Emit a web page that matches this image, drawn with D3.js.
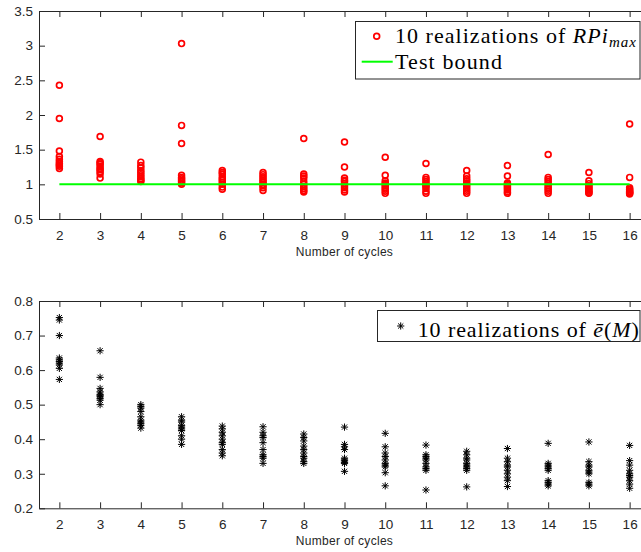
<!DOCTYPE html>
<html><head><meta charset="utf-8">
<script src="https://cdn.jsdelivr.net/npm/d3@7"></script>
<style>
body{margin:0;background:#fff}
svg text{font-family:"Liberation Sans",Arial,Helvetica,sans-serif;fill:#262626}
.leg text{font-family:"Liberation Serif","Times New Roman",serif;fill:#000}
</style>
</head><body>
<svg id="fig" width="641" height="552"></svg>
<script>
// Number of cycles on the x axis
const cycles = [2, 3, 4, 5, 6, 7, 8, 9, 10, 11, 12, 13, 14, 15, 16];

// 10 realizations of RPi_max per cycle count
const rpiMax = [
  [2.43, 1.95, 1.48, 1.40, 1.36, 1.33, 1.30, 1.28, 1.26, 1.23],
  [1.69, 1.33, 1.31, 1.29, 1.26, 1.23, 1.21, 1.18, 1.15, 1.09],
  [1.32, 1.27, 1.24, 1.20, 1.17, 1.14, 1.11, 1.08, 1.06, 1.04],
  [3.03, 1.85, 1.59, 1.13, 1.10, 1.08, 1.06, 1.04, 1.02, 1.00],
  [1.20, 1.17, 1.15, 1.11, 1.08, 1.06, 1.03, 1.00, 0.96, 0.93],
  [1.17, 1.14, 1.11, 1.08, 1.05, 1.03, 1.00, 0.98, 0.95, 0.91],
  [1.66, 1.15, 1.12, 1.09, 1.04, 1.00, 0.97, 0.94, 0.91, 0.89],
  [1.61, 1.25, 1.09, 1.06, 1.04, 1.01, 0.98, 0.95, 0.92, 0.89],
  [1.39, 1.13, 1.05, 1.02, 1.00, 0.98, 0.95, 0.93, 0.90, 0.87],
  [1.30, 1.10, 1.07, 1.04, 1.01, 0.99, 0.97, 0.94, 0.90, 0.87],
  [1.20, 1.12, 1.08, 1.05, 1.02, 0.99, 0.96, 0.93, 0.90, 0.87],
  [1.27, 1.12, 1.02, 1.00, 0.98, 0.96, 0.94, 0.92, 0.89, 0.87],
  [1.43, 1.10, 1.07, 1.04, 1.01, 0.98, 0.95, 0.93, 0.90, 0.87],
  [1.17, 1.05, 1.01, 0.98, 0.96, 0.94, 0.92, 0.90, 0.88, 0.87],
  [1.87, 1.10, 0.95, 0.93, 0.92, 0.90, 0.89, 0.88, 0.87, 0.86]
];
const testBound = 1;

// 10 realizations of the mean error e(M) per cycle count
const eBar = [
  [0.752, 0.745, 0.700, 0.635, 0.630, 0.625, 0.620, 0.615, 0.605, 0.573],
  [0.656, 0.579, 0.547, 0.537, 0.530, 0.527, 0.523, 0.518, 0.513, 0.500],
  [0.500, 0.495, 0.490, 0.480, 0.465, 0.455, 0.450, 0.445, 0.440, 0.432],
  [0.465, 0.455, 0.450, 0.440, 0.435, 0.430, 0.425, 0.410, 0.400, 0.385],
  [0.438, 0.430, 0.420, 0.410, 0.400, 0.390, 0.385, 0.370, 0.360, 0.352],
  [0.436, 0.420, 0.410, 0.405, 0.390, 0.370, 0.355, 0.350, 0.345, 0.330],
  [0.415, 0.405, 0.395, 0.380, 0.370, 0.360, 0.350, 0.345, 0.335, 0.330],
  [0.435, 0.385, 0.378, 0.370, 0.345, 0.340, 0.337, 0.333, 0.330, 0.307],
  [0.417, 0.378, 0.360, 0.350, 0.340, 0.330, 0.325, 0.320, 0.303, 0.265],
  [0.383, 0.355, 0.350, 0.345, 0.340, 0.330, 0.320, 0.315, 0.310, 0.253],
  [0.365, 0.355, 0.345, 0.340, 0.330, 0.325, 0.320, 0.315, 0.310, 0.262],
  [0.373, 0.345, 0.335, 0.325, 0.320, 0.310, 0.300, 0.290, 0.280, 0.263],
  [0.388, 0.330, 0.325, 0.320, 0.315, 0.310, 0.280, 0.275, 0.270, 0.265],
  [0.392, 0.335, 0.325, 0.320, 0.310, 0.305, 0.300, 0.275, 0.270, 0.265],
  [0.382, 0.338, 0.325, 0.310, 0.300, 0.295, 0.290, 0.280, 0.270, 0.258]
];

const topYTicks = [0.5, 1, 1.5, 2, 2.5, 3, 3.5];
const bottomYTicks = [0.2, 0.3, 0.4, 0.5, 0.6, 0.7, 0.8];
const xLabel = "Number of cycles";

const svg = d3.select("#fig");
const axisColor = "#262626";

const x = d3.scaleLinear().domain([1.5, 16.5]).range([39, 650]);

// spread a text's glyphs so it spans the given width
function fitWidth(textSel, target) {
  const node = textSel.node();
  const n = node.getNumberOfChars();
  const w = node.getComputedTextLength();
  if (n > 1) textSel.attr("letter-spacing", ((target - w) / (n - 1)).toFixed(3));
}

function drawAxes(g, y, yTicks, top, bottom) {
  const tickFmt = d => String(d);
  const bx = g.append("g").attr("transform", `translate(0,${bottom})`)
    .call(d3.axisBottom(x).tickValues(cycles).tickFormat(tickFmt)
      .tickSizeInner(-6).tickSizeOuter(0).tickPadding(11));
  const tx = g.append("g").attr("transform", `translate(0,${top})`)
    .call(d3.axisTop(x).tickValues(cycles).tickFormat("")
      .tickSizeInner(-6).tickSizeOuter(0));
  const ly = g.append("g").attr("transform", `translate(${x.range()[0]},0)`)
    .call(d3.axisLeft(y).tickValues(yTicks).tickFormat(tickFmt)
      .tickSizeInner(-6).tickSizeOuter(0).tickPadding(6));
  const ry = g.append("g").attr("transform", `translate(${x.range()[1]},0)`)
    .call(d3.axisRight(y).tickValues(yTicks).tickFormat("")
      .tickSizeInner(-6).tickSizeOuter(0));
  [bx, tx, ly, ry].forEach(a => {
    a.selectAll("path,line").attr("stroke", axisColor).attr("stroke-width", 1);
    a.selectAll("text").attr("font-size", 13.5).attr("fill", axisColor)
      .attr("font-family", '"Liberation Sans",Arial,sans-serif');
  });
  const lab = g.append("text")
    .attr("x", (x.range()[0] + x.range()[1]) / 2)
    .attr("y", bottom + 37)
    .attr("text-anchor", "middle")
    .attr("font-size", 12)
    .text(xLabel);
  fitWidth(lab, 97);
}

// ---------- Upper panel: RPi_max ----------
const yTop = d3.scaleLinear().domain([0.5, 3.5]).range([219, 11]);
const gTop = svg.append("g");

const topPts = [];
cycles.forEach((c, i) => rpiMax[i].forEach(v => topPts.push({c, v})));
gTop.append("g").selectAll("circle").data(topPts).join("circle")
  .attr("cx", d => x(d.c)).attr("cy", d => yTop(d.v)).attr("r", 2.9)
  .attr("fill", "none").attr("stroke", "#ff0000").attr("stroke-width", 1.7);

gTop.append("line")
  .attr("x1", x(cycles[0])).attr("x2", x(cycles[cycles.length - 1]))
  .attr("y1", yTop(testBound)).attr("y2", yTop(testBound))
  .attr("stroke", "#00ff00").attr("stroke-width", 2);

drawAxes(gTop, yTop, topYTicks, 11, 219);

// legend (upper)
const legTop = svg.append("g").attr("class", "leg");
legTop.append("rect").attr("x", 355.5).attr("y", 21.5).attr("width", 284.5).attr("height", 57.5)
  .attr("fill", "#fff").attr("stroke", axisColor).attr("stroke-width", 1);
legTop.append("circle").attr("cx", 376.7).attr("cy", 36.3).attr("r", 2.9)
  .attr("fill", "none").attr("stroke", "#ff0000").attr("stroke-width", 1.7);
legTop.append("line").attr("x1", 361.7).attr("x2", 392.7).attr("y1", 61.7).attr("y2", 61.7)
  .attr("stroke", "#00ff00").attr("stroke-width", 2);
const t1 = legTop.append("text").attr("x", 395).attr("y", 42.5).attr("font-size", 22);
t1.append("tspan").text("10 realizations of ");
t1.append("tspan").attr("font-style", "italic").text("RPi");
t1.append("tspan").attr("font-style", "italic").attr("font-size", 15).attr("dy", 4).text("max");
fitWidth(t1, 241);
const t1b = legTop.append("text").attr("x", 395).attr("y", 68.5).attr("font-size", 22).text("Test bound");
fitWidth(t1b, 107);

// ---------- Lower panel: e(M) ----------
const yBot = d3.scaleLinear().domain([0.2, 0.8]).range([508.3, 301]);
const gBot = svg.append("g");

const star = (s) => `M${-s},0H${s}M0,${-s}V${s}` +
  `M${-s * 0.72},${-s * 0.72}L${s * 0.72},${s * 0.72}M${-s * 0.72},${s * 0.72}L${s * 0.72},${-s * 0.72}`;

const botPts = [];
cycles.forEach((c, i) => eBar[i].forEach(v => botPts.push({c, v})));
gBot.append("g").selectAll("path").data(botPts).join("path")
  .attr("transform", d => `translate(${x(d.c)},${yBot(d.v)})`)
  .attr("d", star(3.6)).attr("fill", "none").attr("stroke", "#000").attr("stroke-width", 1);

drawAxes(gBot, yBot, bottomYTicks, 301, 508.3);

// legend (lower)
const legBot = svg.append("g").attr("class", "leg");
legBot.append("rect").attr("x", 377.5).attr("y", 310.5).attr("width", 262.5).attr("height", 31)
  .attr("fill", "#fff").attr("stroke", axisColor).attr("stroke-width", 1);
legBot.append("path").attr("transform", "translate(400.7,326)").attr("d", star(3.6))
  .attr("fill", "none").attr("stroke", "#000").attr("stroke-width", 1);
const t2 = legBot.append("text").attr("x", 417.7).attr("y", 336.5).attr("font-size", 22);
t2.append("tspan").text("10 realizations of ");
t2.append("tspan").attr("font-style", "italic").text("ē");
t2.append("tspan").text("(");
t2.append("tspan").attr("font-style", "italic").text("M");
t2.append("tspan").text(")");
fitWidth(t2, 221);
</script>
</body></html>
